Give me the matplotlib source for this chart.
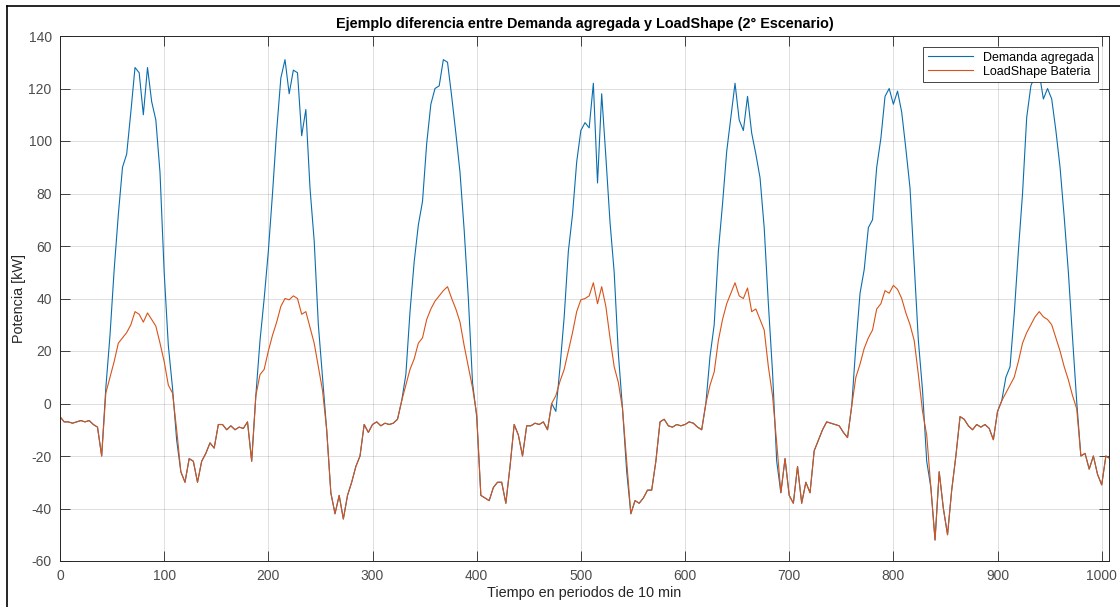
import numpy as np
import matplotlib.pyplot as plt
from matplotlib.lines import Line2D

plt.rcParams['font.family'] = ['Liberation Sans', 'DejaVu Sans']
plt.rcParams['axes.unicode_minus'] = False

step = 4
loadshape = [
    -5, -7, -7, -7.5, -7, -6.5, -7, -6.5, -8, -9,
    -20, 4, 10, 16, 23, 25, 27, 30, 35, 34,
    31, 34.5, 32, 29.5, 23, 16, 7, 4, -10, -26,
    -30, -21, -22, -30, -22, -19, -15, -17, -8, -8,
    -10, -8.5, -10, -9, -9.5, -7, -22, 3, 11, 13,
    20, 26, 31, 37, 40, 39.5, 41, 40, 34, 35,
    29, 23, 14, 5, -10, -34, -42, -35, -44, -35,
    -30, -24, -20, -8, -11, -8, -7, -8.5, -7.5, -8,
    -7.5, -6, 1, 7, 13, 17, 23, 25, 32, 36,
    39, 41, 43, 44.5, 40, 36, 31, 22, 14, 6,
    -4, -35, -36, -37, -32, -30, -30, -38, -24, -8,
    -12, -20, -8.5, -8.5, -7.5, -8, -7, -10, 0, 3,
    8.5, 13, 20, 27, 35, 39.5, 40, 41, 46, 38,
    44.5, 37, 25, 14, 8, -2, -22, -42, -37, -38,
    -36, -33, -33, -22, -7, -6, -8.5, -9, -8, -8.5,
    -8, -7, -7.5, -9, -10, 0, 7, 12, 24, 32,
    38, 42, 46, 41, 40, 44, 35, 36, 32, 28,
    14, 3, -15, -34, -21, -35, -38, -24, -38, -30,
    -34, -18, -14, -10, -7, -7.5, -8, -8.5, -11, -13,
    -1, 10, 15, 21, 25, 28, 36, 38, 43, 42,
    45, 43.5, 40, 34.5, 30, 24, 11, -3, -12, -32,
    -52, -26, -40, -50, -33, -20, -5, -6, -8.5, -10,
    -8, -9, -8, -9.5, -13.8, -3, 1, 4, 7, 10,
    16, 23, 27, 30, 33, 35, 33, 32, 30, 25,
    20, 14, 9, 3, -2, -20, -19, -25, -20, -27,
    -31, -20, -21,
]
demanda = [
    -5, -7, -7, -7.5, -7, -6.5, -7, -6.5, -8, -9,
    -20, 6, 26, 51, 72, 90, 95, 111, 128, 126,
    110, 128, 115, 108, 88, 50, 22, 6, -14, -26,
    -30, -21, -22, -30, -22, -19, -15, -17, -8, -8,
    -10, -8.5, -10, -9, -9.5, -7, -22, 3, 24, 40,
    58, 80, 104, 124, 131, 118, 127, 126, 102, 112,
    82, 62, 30, 10, -10, -34, -42, -35, -44, -35,
    -30, -24, -20, -8, -11, -8, -7, -8.5, -7.5, -8,
    -7.5, -6, 1, 11, 35, 54, 68, 77, 99, 114,
    120, 121, 131, 130, 117, 103, 88, 66, 40, 8,
    -5, -35, -36, -37, -32, -30, -30, -38, -24, -8,
    -12, -20, -8.5, -8.5, -7.5, -8, -7, -10, 0, -3,
    14, 33, 58, 72, 92, 104, 107, 105, 122, 84,
    118, 94, 69, 50, 19, -2, -26, -42, -37, -38,
    -36, -33, -33, -22, -7, -6, -8.5, -9, -8, -8.5,
    -8, -7, -7.5, -9, -10, 0, 18, 30, 58, 76,
    96, 109, 122, 108, 104, 117, 103, 95, 86, 67,
    38, 12, -22, -34, -21, -35, -38, -24, -38, -30,
    -34, -18, -14, -10, -7, -7.5, -8, -8.5, -11, -13,
    -1, 22, 42, 51, 67, 70, 90, 101, 117, 120,
    114, 119, 111, 97, 82, 53, 24, 5, -22, -32,
    -52, -26, -40, -50, -33, -20, -5, -6, -8.5, -10,
    -8, -9, -8, -9.5, -13.8, -3, 1, 10, 14, 34,
    58, 80, 109, 121, 125, 126, 116, 120, 116, 104,
    90, 71, 50, 25, 0.7, -20, -19, -25, -20, -27,
    -31, -20, -21,
]
t = np.arange(len(loadshape)) * step

fig = plt.figure(figsize=[11.2, 6.07], dpi=100)
ax = fig.add_axes([60/1120, 1 - 561/607, 1049/1120, 525/607])

ax.plot(t, demanda, color='#0A6EAE', lw=0.8, label='Demanda agregada')
ax.plot(t, loadshape, color='#D95319', lw=0.8, label='LoadShape Bateria')

ax.set_xlim(0, 1007)
ax.set_ylim(-60, 140)
ax.set_xticks(np.arange(0, 1001, 100))
ax.set_yticks(np.arange(-60, 141, 20))
ax.grid(True, color='#262626', alpha=0.15, lw=0.7)
ax.tick_params(direction='in', length=7, width=0.6, top=True, right=True,
               labelsize=10, colors='#262626', labelcolor='#4d4d4d', pad=6)
for s in ax.spines.values():
    s.set_color('#262626')
    s.set_linewidth(0.7)

ax.set_title('Ejemplo diferencia entre Demanda agregada y LoadShape (2° Escenario)',
             fontsize=10.4, fontweight='bold', color='black', pad=6)
ax.set_xlabel('Tiempo en periodos de 10 min', fontsize=10.4, color='#262626', labelpad=2)
ax.set_ylabel('Potencia [kW]', fontsize=10.4, color='#262626')
ax.yaxis.set_label_coords(-0.0325, 0.5)

leg = ax.legend(loc='upper right', fontsize=9, fancybox=False, framealpha=1,
                edgecolor='#262626', handlelength=3.6, borderaxespad=0.9,
                labelspacing=0.15, borderpad=0.35)
leg.get_frame().set_linewidth(0.6)

# screenshot border on left/top
fig.add_artist(Line2D([7/1120, 7/1120], [0, 1 - 5.5/607], color='black', lw=1.2))
fig.add_artist(Line2D([7/1120, 1], [1 - 5.5/607, 1 - 5.5/607], color='black', lw=1.2))

plt.savefig('out.png', dpi=100)
